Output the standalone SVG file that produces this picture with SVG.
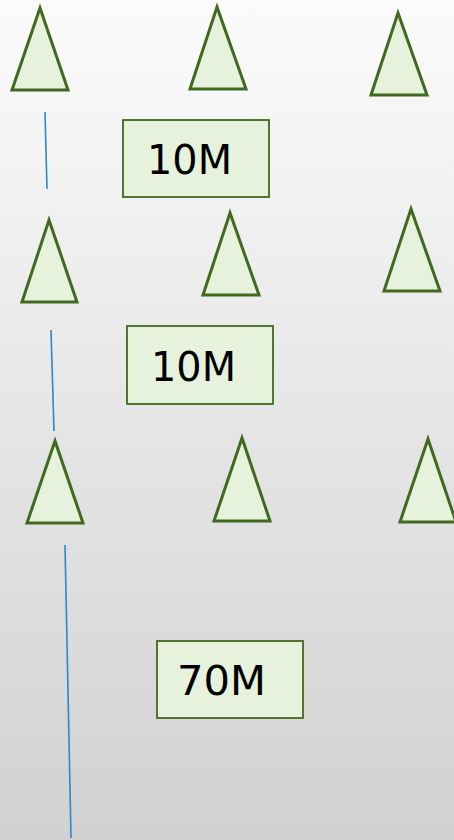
<svg xmlns="http://www.w3.org/2000/svg" width="454" height="840" viewBox="0 0 454 840">
<defs>
<linearGradient id="bg" x1="0" y1="0" x2="0" y2="1">
<stop offset="0" stop-color="#fbfbfb"/>
<stop offset="1" stop-color="#d1d1d1"/>
</linearGradient>
<style>
.tree{fill:#e6f2dc;stroke:#41691f;stroke-width:3;stroke-linejoin:miter}
.box{fill:#e6f2dc;stroke:#41691f;stroke-width:1.8}
.lbl{font-family:"DejaVu Sans","Liberation Sans",sans-serif;font-size:41px;fill:#000}
.conn{stroke:#2f86c9;stroke-width:1.6;fill:none}
</style>
</defs>
<rect width="454" height="840" fill="url(#bg)"/>
<g id="connectors">
<line class="conn" x1="45" y1="112" x2="47" y2="189"/>
<line class="conn" x1="51" y1="330" x2="54" y2="431"/>
<line class="conn" x1="65" y1="545" x2="71" y2="838"/>
</g>
<g id="tree1"><polygon class="tree" points="40,8 12,90 68,90"/></g>
<g id="tree2"><polygon class="tree" points="217,7 190,89 246,89"/></g>
<g id="tree3"><polygon class="tree" points="398,13 371,95 427,95"/></g>
<g id="tree4"><polygon class="tree" points="49,220 22,302 77,302"/></g>
<g id="tree5"><polygon class="tree" points="230,213 203,295 259,295"/></g>
<g id="tree6"><polygon class="tree" points="411,209 384,291 440,291"/></g>
<g id="tree7"><polygon class="tree" points="55,441 27,523 83,523"/></g>
<g id="tree8"><polygon class="tree" points="242,438 214,521 270,521"/></g>
<g id="tree9"><polygon class="tree" points="428,439 400,522 456,522"/></g>
<g id="label1"><rect class="box" x="123" y="120" width="146" height="77"/><text class="lbl" x="147" y="174" textLength="85" lengthAdjust="spacingAndGlyphs">10M</text></g>
<g id="label2"><rect class="box" x="127" y="326" width="146" height="78"/><text class="lbl" x="151" y="381" textLength="85" lengthAdjust="spacingAndGlyphs">10M</text></g>
<g id="label3"><rect class="box" x="157" y="641" width="146" height="77"/><text class="lbl" x="177" y="695" textLength="89" lengthAdjust="spacingAndGlyphs">70M</text></g>
</svg>
